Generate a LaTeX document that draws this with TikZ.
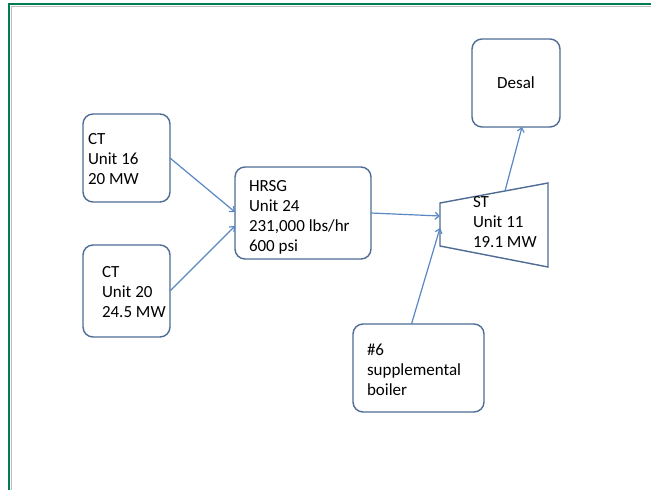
\documentclass[tikz,border=0pt]{standalone}
\usepackage{fontspec}
\setmainfont{Carlito}
\usetikzlibrary{arrows.meta}
\definecolor{boxedge}{RGB}{78,108,148}
\definecolor{flowblue}{RGB}{88,135,196}
\definecolor{framegreen}{RGB}{0,125,80}
\definecolor{framegray}{RGB}{192,192,192}

\begin{document}
\begin{tikzpicture}[
	x=1pt, y=-1pt,
	unitbox/.style={draw=boxedge, fill=white, line width=1.4pt, rounded corners=10pt,
		anchor=north west, inner sep=0pt},
	unittext/.style={align=left, anchor=west, inner sep=0pt},
	flow/.style={draw=flowblue, line width=1.2pt, -{Straight Barb[length=4pt,width=7pt]}},
	every node/.style={outer sep=0pt, font=\fontsize{17}{20}\selectfont},
]
\useasboundingbox (0,0) rectangle (651,490);
% page frame
\draw[framegray, line width=1pt] (11,490) -- (11,6) -- (651,6);
\draw[framegreen, line width=2pt] (9,490) -- (9,4) -- (651,4);

% Input 1: shift of the text from the west side of the box.
\def\unitbox#1[#2](#3)#4{
	\node[unitbox, #2] (#3) {};
	\node[unittext, #1] at (#3.west) (#3text) {#4};
}
	\unitbox{xshift=5pt, yshift=-1pt}[at={(83,114)}, minimum width=87pt, minimum height=88pt](ct16){CT\\Unit 16\\20 MW}
	\unitbox{xshift=19pt, yshift=-1pt}[at={(83,245)}, minimum width=87pt, minimum height=92pt](ct20){CT\\Unit 20\\24.5 MW}
	\unitbox{xshift=14pt, yshift=-4pt}[at={(235,167)}, minimum width=136pt, minimum height=92pt](hrsg){HRSG\\Unit 24\\231,000 lbs/hr\\600 psi}
	\unitbox{xshift=14pt, yshift=-2pt}[at={(353,324)}, minimum width=131pt, minimum height=88pt](boiler){\#6\\supplemental\\boiler}
	\node[unitbox, minimum width=88pt, minimum height=88pt] at (472,39) (desal) {Desal};

% steam turbine
\coordinate (sttl) at (440,203);
\coordinate (sttr) at (548,183);
\coordinate (stbr) at (548,267);
\coordinate (stbl) at (440,246);
\draw[boxedge, line width=1.4pt, fill=white] (sttl) -- (sttr) -- (stbr) -- (stbl) -- cycle;
\node[unittext] at (473,222) (st) {ST\\Unit 11\\19.1 MW};
\coordinate (stin1) at (440,216);
\coordinate (stin2) at (440,228);
\coordinate (stout) at (505,191);

	\draw[flow] (ct16.east) -- ([yshift=1pt]hrsg.west);
	\draw[flow] (ct20.east) -- ([yshift=-13pt]hrsg.west);
	\draw[flow] (hrsg.east) -- (stin1);
	\draw[flow] ([xshift=-7pt]boiler.north) -- (stin2);
	\draw[flow] (stout) -- ([xshift=6pt]desal.south);
\end{tikzpicture}
\end{document}
